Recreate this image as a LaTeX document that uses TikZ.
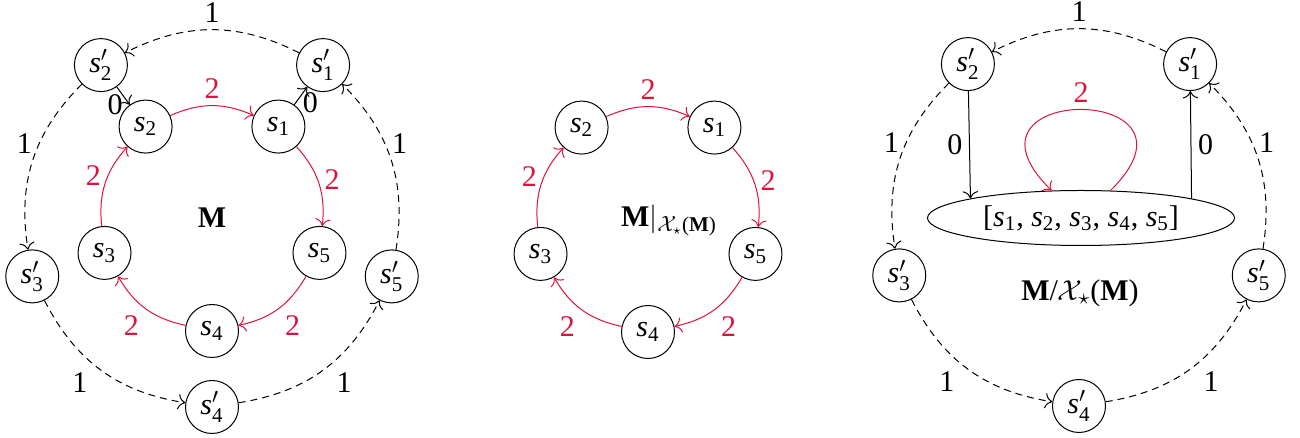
\documentclass[tikz,border=0pt]{standalone}
\usepackage{amsmath}
\usepackage{fontspec}
\setmainfont{Liberation Serif}
\usetikzlibrary{calc,shapes.geometric,arrows.meta}
\definecolor{crim}{RGB}{220,20,60}
\newcommand{\ST}[1]{\textit{s}$_{\text{#1}}$}
\newcommand{\SP}[1]{\textit{s}$'_{\text{#1}}$}
\begin{document}
\begin{tikzpicture}[x=0.5pt,y=0.5pt,
  font=\fontsize{15}{17}\selectfont,
  >={To[scale=1.35]},
  st/.style={circle,draw,minimum size=26.5pt,inner sep=0pt,line width=0.5pt},
  rd/.style={crim,->,line width=0.5pt},
  ds/.style={->,dash pattern=on 3.5pt off 2.5pt,line width=0.5pt},
  bk/.style={->,line width=0.5pt},
  bi/.style={bend left=24},
  bo/.style={bend right=27}]
\useasboundingbox (0,0) rectangle (1300,438);
% ---------- left graph ----------
\coordinate (L) at (212,220);
\node[st] (a1) at ($(L)+(54:113)$) {\ST1};
\node[st] (a2) at ($(L)+(126:113)$) {\ST2};
\node[st] (a3) at ($(L)+(198:113)$) {\ST3};
\node[st] (a4) at ($(L)+(270:113)$) {\ST4};
\node[st] (a5) at ($(L)+(342:113)$) {\ST5};
\node[st] (b1) at ($(L)+(54:189)$) {\SP1};
\node[st] (b2) at ($(L)+(126:189)$) {\SP2};
\node[st] (b3) at ($(L)+(198:189)$) {\SP3};
\node[st] (b4) at ($(L)+(270:189)$) {\SP4};
\node[st] (b5) at ($(L)+(342:189)$) {\SP5};
\node (aM) at (L) {\textbf{M}};
\draw[rd] (a2) to[bi] node[above]{2} (a1);
\draw[rd] (a1) to[bi] node[pos=.45,right]{2} (a5);
\draw[rd] (a5) to[bi] node[below right]{2} (a4);
\draw[rd] (a4) to[bi] node[below left]{2} (a3);
\draw[rd] (a3) to[bi] node[pos=.6,left]{2} (a2);
\draw[ds] (b1) to[bo] node[above]{1} (b2);
\draw[ds] (b2) to[bo] node[pos=.4,left]{1} (b3);
\draw[ds] (b3) to[bo] node[pos=.45,below left]{1} (b4);
\draw[ds] (b4) to[bo] node[pos=.55,below right]{1} (b5);
\draw[ds] (b5) to[bo] node[pos=.6,right]{1} (b1);
\draw[bk] (b2) -- node[pos=1,left]{0} (a2);
\draw[bk] (a1) -- node[pos=.1,right]{0} (b1);
% ---------- middle graph ----------
\coordinate (C) at (648,219);
\node[st] (c1) at ($(C)+(54:113)$) {\ST1};
\node[st] (c2) at ($(C)+(126:113)$) {\ST2};
\node[st] (c3) at ($(C)+(198:113)$) {\ST3};
\node[st] (c4) at ($(C)+(270:113)$) {\ST4};
\node[st] (c5) at ($(C)+(342:113)$) {\ST5};
\node (cM) at (669,218) {\textbf{M}$|_{\mathcal{X}_\star\text{(\textbf{M})}}$};
\draw[rd] (c2) to[bi] node[above]{2} (c1);
\draw[rd] (c1) to[bi] node[pos=.45,right]{2} (c5);
\draw[rd] (c5) to[bi] node[below right]{2} (c4);
\draw[rd] (c4) to[bi] node[below left]{2} (c3);
\draw[rd] (c3) to[bi] node[pos=.6,left]{2} (c2);
% ---------- right graph ----------
\coordinate (R) at (1079,221);
\node[st] (d1) at ($(R)+(54:189)$) {\SP1};
\node[st] (d2) at ($(R)+(126:189)$) {\SP2};
\node[st] (d3) at ($(R)+(198:189)$) {\SP3};
\node[st] (d4) at ($(R)+(270:189)$) {\SP4};
\node[st] (d5) at ($(R)+(342:189)$) {\SP5};
\node[ellipse,draw,line width=0.5pt,minimum width=153.5pt,minimum height=27.5pt,inner sep=0pt] (E) at (1081,220) {[\ST1, \ST2, \ST3, \ST4, \ST5]};
\node (eM) at (1080,145) {\textbf{M}/$\mathcal{X}_\star$(\textbf{M})};
\draw[ds] (d1) to[bo] node[above]{1} (d2);
\draw[ds] (d2) to[bo] node[pos=.4,left]{1} (d3);
\draw[ds] (d3) to[bo] node[pos=.45,below left]{1} (d4);
\draw[ds] (d4) to[bo] node[pos=.55,below right]{1} (d5);
\draw[ds] (d5) to[bo] node[pos=.6,right]{1} (d1);
\draw[bk] (d2) -- node[left]{0} (E.170);
\draw[bk] (E.10) -- node[right]{0} (d1);
\draw[rd] (E.43) .. controls +(110,108) and +(-110,108) .. node[above]{2} (E.137);
\end{tikzpicture}
\end{document}
